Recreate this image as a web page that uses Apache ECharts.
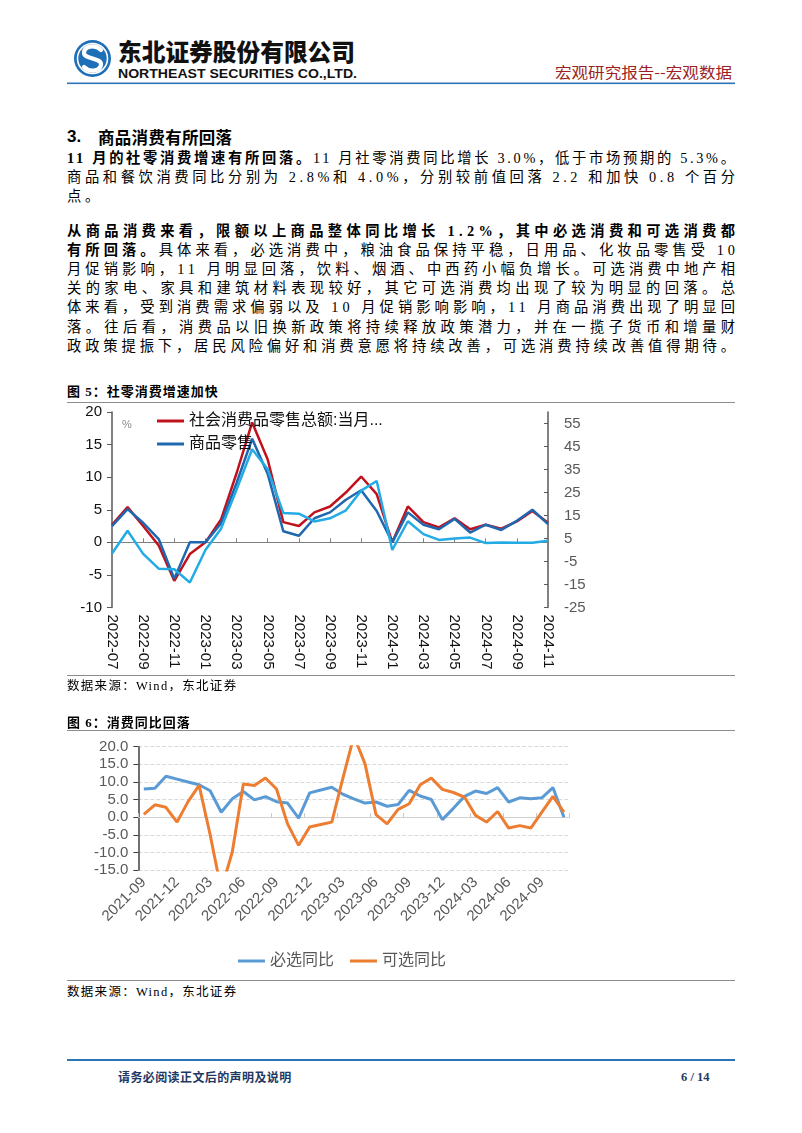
<!DOCTYPE html>
<html><head><meta charset="utf-8">
<script src="https://cdn.jsdelivr.net/npm/echarts@6/dist/echarts.min.js"></script>
<style>
html,body{margin:0;padding:0;}
body{width:802px;height:1133px;background:#fff;position:relative;overflow:hidden;font-family:"Liberation Serif","Noto Sans CJK SC",serif;color:#000;}
.abs{position:absolute;}
.ln{position:absolute;left:67px;height:20px;line-height:20px;font-size:14.3px;white-space:nowrap;}
b{font-family:"Liberation Serif","Noto Sans CJK SC",sans-serif;font-weight:bold;}
.rule{position:absolute;left:67px;width:668px;height:1px;background:#8c8c8c;}
.cap{position:absolute;left:67px;font-size:13px;font-weight:bold;font-family:"Liberation Serif","Noto Sans CJK SC",serif;letter-spacing:1px;line-height:16px;}
.src{position:absolute;left:67px;font-size:12.5px;letter-spacing:1.3px;line-height:16px;}
</style>
</head><body>

<!-- header -->
<svg class="abs" style="left:0;top:0" width="802" height="100">
  <circle cx="92.5" cy="58.5" r="18.5" fill="#1F6FB8"/>
  <circle cx="92.5" cy="58.5" r="15" fill="none" stroke="#fff" stroke-width="1.6"/>
  <path d="M101 50 C95 44 84 46 84 53 C84 59 101 58 101 64 C101 71 90 73 84 67" fill="none" stroke="#fff" stroke-width="4.2" stroke-linecap="round"/>
  <text x="118" y="61" font-family="Noto Sans CJK SC" font-weight="900" font-size="24" textLength="237" lengthAdjust="spacingAndGlyphs" fill="#111">东北证券股份有限公司</text>
  <text x="118" y="78" font-family="Liberation Sans" font-weight="bold" font-size="12.5" textLength="239" lengthAdjust="spacingAndGlyphs" fill="#111">NORTHEAST SECURITIES CO.,LTD.</text>
  <text x="555" y="78" font-family="Noto Sans CJK SC" font-size="15" textLength="177" lengthAdjust="spacingAndGlyphs" fill="#9C1F24">宏观研究报告--宏观数据</text>
  <rect x="67" y="82.5" width="668" height="1.6" fill="#2E75B6"/>
</svg>

<!-- section title -->
<div class="abs" style="left:67px;top:126px;font-size:17px;font-weight:bold;font-family:'Liberation Sans','Noto Sans CJK SC',sans-serif;line-height:22px;">3.</div>
<div class="abs" style="left:98px;top:126px;font-size:16.5px;font-weight:bold;font-family:'Noto Sans CJK SC',sans-serif;letter-spacing:0.3px;line-height:22px;">商品消费有所回落</div>

<!-- body -->
<div class="ln j" style="top:148px"><b>11 月的社零消费增速有所回落。</b>11 月社零消费同比增长 3.0%，低于市场预期的 5.3%。</div>
<div class="ln j" style="top:167px">商品和餐饮消费同比分别为 2.8%和 4.0%，分别较前值回落 2.2 和加快 0.8 个百分</div>
<div class="ln" style="top:186px;letter-spacing:3.6px">点。</div>
<div class="ln j" style="top:221px"><b>从商品消费来看，限额以上商品整体同比增长 1.2%，其中必选消费和可选消费都</b></div>
<div class="ln j" style="top:240px"><b>有所回落。</b>具体来看，必选消费中，粮油食品保持平稳，日用品、化妆品零售受 10</div>
<div class="ln j" style="top:259px">月促销影响，11 月明显回落，饮料、烟酒、中西药小幅负增长。可选消费中地产相</div>
<div class="ln j" style="top:278px">关的家电、家具和建筑材料表现较好，其它可选消费均出现了较为明显的回落。总</div>
<div class="ln j" style="top:297px">体来看，受到消费需求偏弱以及 10 月促销影响影响，11 月商品消费出现了明显回</div>
<div class="ln j" style="top:317px">落。往后看，消费品以旧换新政策将持续释放政策潜力，并在一揽子货币和增量财</div>
<div class="ln j" style="top:336px">政政策提振下，居民风险偏好和消费意愿将持续改善，可选消费持续改善值得期待。</div>

<!-- figure 5 -->
<div class="cap" style="top:384px">图 5：社零消费增速加快</div>
<div class="rule" style="top:402px"></div>
<div id="c1" class="abs" style="left:0;top:395px;width:592px;height:290px;"></div>
<div class="rule" style="top:675px"></div>
<div class="src" style="top:678px">数据来源：Wind，东北证券</div>

<!-- figure 6 -->
<div class="cap" style="top:715px">图 6：消费同比回落</div>
<div class="rule" style="top:730px"></div>
<div id="c2" class="abs" style="left:60px;top:735px;width:530px;height:240px;"></div>
<div class="rule" style="top:980px"></div>
<div class="src" style="top:984px">数据来源：Wind，东北证券</div>

<!-- footer -->
<div class="abs" style="left:67px;top:1059px;width:668px;height:1.6px;background:#2E75B6;"></div>
<div class="abs" style="left:118px;top:1069px;font-size:12px;font-weight:bold;color:#1F3864;font-family:'Noto Sans CJK SC',sans-serif;line-height:16px;letter-spacing:0.4px;">请务必阅读正文后的声明及说明</div>
<div class="abs" style="left:681px;top:1069px;font-size:12.5px;font-weight:bold;color:#1F3864;font-family:'Liberation Serif',serif;line-height:16px;">6 / 14</div>

<script>
// justify body lines by even inter-character spacing
document.querySelectorAll('.ln.j').forEach(el => {
  const n = el.textContent.length;
  const w = el.getBoundingClientRect().width;
  const ls = (668 - w) / Math.max(1, n - 1);
  el.style.letterSpacing = ls + 'px';
});

// ---------- Figure 5 data ----------
const months5 = ['2022-07','2022-08','2022-09','2022-10','2022-11','2022-12',
  '2023-01','2023-02','2023-03','2023-04','2023-05','2023-06','2023-07','2023-08','2023-09','2023-10','2023-11','2023-12',
  '2024-01','2024-02','2024-03','2024-04','2024-05','2024-06','2024-07','2024-08','2024-09','2024-10','2024-11'];
const retailYoY = [2.7,5.4,2.5,-0.5,-5.9,-1.8, 0,3.5,10.6,18.4,12.7,3.1,2.5,4.6,5.5,7.6,10.1,7.4, 0,5.5,3.1,2.3,3.7,2.0,2.7,2.1,3.2,4.8,3.0];
const goodsYoY = [2.5,5.1,3.0,0.5,-5.6,0.0, 0,2.9,9.1,15.9,10.5,1.7,1.0,3.7,4.6,6.5,8.0,4.8, 0,4.6,2.7,2.0,3.6,1.5,2.7,1.9,3.3,5.0,2.8];
const cateringYoY = [-1.5,8.4,-1.7,-8.1,-8.4,-14.1, 0,9.2,26.3,43.8,35.1,16.1,15.8,12.4,13.8,17.1,25.8,30.0, 0,12.5,6.9,4.4,5.0,5.4,3.0,3.3,3.1,3.2,4.0];
const rightTicks5 = [-25,-15,-5,5,15,25,35,45,55];

// ---------- Figure 6 data ----------
const months6 = ['2021-09','2021-10','2021-11','2021-12',
  '2022-01','2022-02','2022-03','2022-04','2022-05','2022-06','2022-07','2022-08','2022-09','2022-10','2022-11','2022-12',
  '2023-01','2023-02','2023-03','2023-04','2023-05','2023-06','2023-07','2023-08','2023-09','2023-10','2023-11','2023-12',
  '2024-01','2024-02','2024-03','2024-04','2024-05','2024-06','2024-07','2024-08','2024-09','2024-10','2024-11'];
const stapleYoY = [8.0,8.2,11.6,10.8,10.0,9.2,7.5,1.4,5.2,7.3,4.9,5.8,4.4,4.0,-0.3,6.9,7.7,8.5,6.5,5.2,4.0,4.3,3.1,3.6,7.6,6.0,5.0,-0.7,2.5,5.9,7.4,6.7,8.4,4.3,5.5,5.2,5.5,8.4,0.0];
const optionalYoY = [0.8,3.5,2.8,-1.4,4.4,9.0,-5.0,-20.7,-9.9,9.4,9.0,11.1,8.0,-1.9,-8.0,-2.8,-2.1,-1.4,11.0,23.0,15.2,0.7,-1.9,2.2,3.8,9.2,11.1,7.9,7.0,5.7,0.5,-1.4,1.6,-3.1,-2.4,-3.1,1.4,5.9,1.4];

const FONT = '"Liberation Sans","Noto Sans CJK SC",sans-serif';
const RETAIL = '社会消费品零售总额:当月同比';

const c1 = echarts.init(document.getElementById('c1'));
c1.setOption({
  animation: false,
  textStyle: {fontFamily: FONT},
  grid: {left: 112, right: 44, top: 17, bottom: 77.5, outerBoundsMode: 'none'},
  legend: {
    orient: 'vertical', left: 152, top: 13, icon: 'rect', itemWidth: 27, itemHeight: 3, itemGap: 7,
    data: [RETAIL, '商品零售'],
    formatter: n => n === RETAIL ? '社会消费品零售总额:当月...' : n,
    textStyle: {fontSize: 16, color: '#111', fontFamily: FONT, lineHeight: 16}
  },
  graphic: [{type: 'text', left: 122, top: 24, style: {text: '%', fontSize: 11, fill: '#8c8c8c', fontFamily: FONT}}],
  xAxis: [
    {type: 'category', data: months5, boundaryGap: false,
     axisLine: {show: false, onZero: false}, axisTick: {show: false},
     axisLabel: {rotate: -90, interval: 1, margin: 7, fontSize: 15, color: '#111'}},
    {type: 'category', data: months5, position: 'top', boundaryGap: false,
     axisLine: {show: true, onZero: true, lineStyle: {color: '#7f7f7f', width: 1.2}},
     axisTick: {show: true, interval: 1, length: 4, lineStyle: {color: '#7f7f7f'}},
     axisLabel: {show: false}}
  ],
  yAxis: [
    {type: 'value', min: -10, max: 20, interval: 5, position: 'left',
     axisLine: {show: true, onZero: false, lineStyle: {color: '#595959', width: 1.5}},
     axisTick: {show: true, length: 5, lineStyle: {color: '#595959'}},
     axisLabel: {fontSize: 15, color: '#111', margin: 10},
     splitLine: {show: false}},
    {type: 'value', min: -25, max: 60, position: 'right',
     axisLine: {show: true, onZero: false, lineStyle: {color: '#595959', width: 1.5}},
     axisTick: {show: true, inside: true, length: 4, customValues: rightTicks5, lineStyle: {color: '#595959'}},
     axisLabel: {fontSize: 15, color: '#595959', margin: 16, customValues: rightTicks5},
     splitLine: {show: false}}
  ],
  series: [
    {name: RETAIL, type: 'line', data: retailYoY, symbol: 'none', lineStyle: {color: '#C0121C', width: 2.5}, itemStyle: {color: '#C0121C'}},
    {name: '商品零售', type: 'line', data: goodsYoY, symbol: 'none', lineStyle: {color: '#1F68B0', width: 2.5}, itemStyle: {color: '#1F68B0'}},
    {name: '餐饮收入', type: 'line', yAxisIndex: 1, data: cateringYoY, symbol: 'none', lineStyle: {color: '#22ABE4', width: 2.5}, itemStyle: {color: '#22ABE4'}}
  ]
});

const c2 = echarts.init(document.getElementById('c2'));
c2.setOption({
  animation: false,
  textStyle: {fontFamily: FONT},
  grid: {left: 78.3, right: 20.5, top: 11.7, bottom: 105, outerBoundsMode: 'none'},
  legend: {
    left: 173, top: 213, icon: 'rect', itemWidth: 27, itemHeight: 3, itemGap: 16,
    data: ['必选同比', '可选同比'],
    textStyle: {fontSize: 16, color: '#595959', fontFamily: FONT}
  },
  xAxis: [
    {type: 'category', data: months6, boundaryGap: true,
     axisLine: {show: false, onZero: false}, axisTick: {show: false},
     axisLabel: {rotate: 45, interval: 2, margin: 10, fontSize: 15, color: '#595959'}},
    {type: 'category', data: months6, position: 'top', boundaryGap: true,
     axisLine: {show: true, onZero: true, lineStyle: {color: '#D0D0D0', width: 1.2}},
     axisTick: {show: true, interval: 2, length: 4, lineStyle: {color: '#C8C8C8'}},
     axisLabel: {show: false}}
  ],
  yAxis: {
    type: 'value', min: -15, max: 20, interval: 5,
    axisLine: {show: true, onZero: false, lineStyle: {color: '#404040', width: 1.5}},
    axisTick: {show: true, length: 5, lineStyle: {color: '#404040'}},
    axisLabel: {fontSize: 15, color: '#595959', margin: 10, formatter: v => v.toFixed(1)},
    splitLine: {show: true, lineStyle: {color: '#D9D9D9', type: 'dashed', width: 1}}
  },
  series: [
    {name: '必选同比', type: 'line', data: stapleYoY, symbol: 'none', lineStyle: {color: '#5B9BD5', width: 3}, itemStyle: {color: '#5B9BD5'}},
    {name: '可选同比', type: 'line', data: optionalYoY, symbol: 'none', lineStyle: {color: '#ED7D31', width: 3}, itemStyle: {color: '#ED7D31'}}
  ]
});
</script>
</body></html>
